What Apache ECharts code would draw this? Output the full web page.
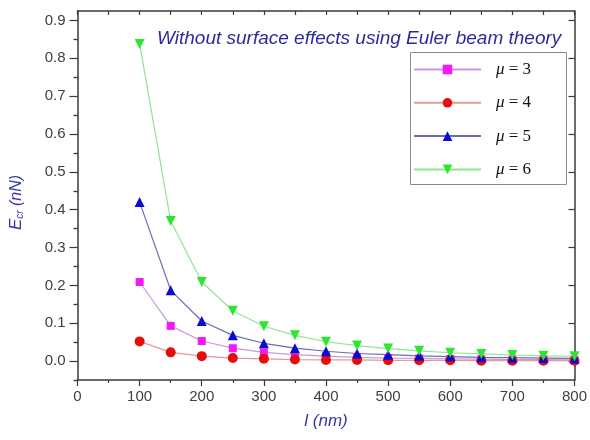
<!DOCTYPE html>
<html>
<head>
<meta charset="utf-8">
<script src="https://cdn.jsdelivr.net/npm/echarts@6/dist/echarts.min.js"></script>
<style>html,body{margin:0;padding:0;background:#fff}#c{width:590px;height:440px}</style>
</head>
<body>
<div id="c"></div>
<script>
// ---- data ----
const lengths = [100, 150, 200, 250, 300, 350, 400, 450, 500, 550, 600, 650, 700, 750, 800];
const mu3 = [0.209, 0.093, 0.053, 0.034, 0.023, 0.017, 0.013, 0.010, 0.008, 0.007, 0.006, 0.005, 0.004, 0.004, 0.003];
const mu4 = [0.052, 0.023, 0.013, 0.008, 0.006, 0.004, 0.003, 0.003, 0.002, 0.002, 0.002, 0.001, 0.001, 0.001, 0.001];
const mu5 = [0.420, 0.187, 0.106, 0.068, 0.047, 0.034, 0.026, 0.020, 0.017, 0.014, 0.012, 0.010, 0.009, 0.008, 0.007];
const mu6 = [0.838, 0.370, 0.209, 0.133, 0.092, 0.068, 0.051, 0.041, 0.033, 0.027, 0.022, 0.019, 0.016, 0.014, 0.013];
const seriesNames = ['μ = 3', 'μ = 4', 'μ = 5', 'μ = 6'];
const yMajorTicks = [0, 0.1, 0.2, 0.3, 0.4, 0.5, 0.6, 0.7, 0.8, 0.9];
const yMinorTicks = [-0.05, 0.05, 0.15, 0.25, 0.35, 0.45, 0.55, 0.65, 0.75, 0.85];
const titleText = 'Without surface effects using Euler beam theory';

const pairs = arr => lengths.map((x, i) => [x, arr[i]]);
const Y_MIN = -0.05, Y_MAX = 0.925;
const axisColor = '#3a3a3a';
const labelFont = {fontFamily: 'Arial, "Liberation Sans", sans-serif', fontSize: 15, color: '#404040'};

const chart = echarts.init(document.getElementById('c'), null, {renderer: 'canvas'});

function mkSeries(name, data, symbol, size, color, lineColor) {
  return {
    name, type: 'line', data: pairs(data), xAxisIndex: 0, yAxisIndex: 0,
    symbol, symbolSize: size,
    itemStyle: {color: color},
    lineStyle: {color: lineColor, width: 1.2},
    emphasis: {disabled: true}, animation: false, z: 3
  };
}

const serif = '"Liberation Serif", "Times New Roman", serif';
const option = {
  animation: false,
  title: {
    text: titleText, left: 152, top: 24,
    textStyle: {fontFamily: 'Arial, "Liberation Sans", sans-serif', fontStyle: 'italic', fontWeight: 'normal', fontSize: 19, color: '#2b2b9e'}
  },
  grid: {left: 76, right: 13.5, top: 11, bottom: 60, containLabel: false},
  legend: {
    orient: 'vertical', left: 413, top: 61, padding: 0,
    itemWidth: 67, itemHeight: 12, itemGap: 16.3,
    data: seriesNames,
    formatter: n => '{m|μ}{e| ' + n.slice(2) + '}',
    textStyle: {
      padding: [0, 0, 0, 10],
      rich: {
        m: {fontFamily: serif, fontStyle: 'italic', fontSize: 17, color: '#111'},
        e: {fontFamily: serif, fontSize: 17, color: '#111'}
      }
    }
  },
  graphic: [{
    type: 'rect', left: 408, top: 50, z: 10, silent: true,
    shape: {width: 156, height: 132},
    style: {fill: 'none', stroke: '#8a8a8a', lineWidth: 1}
  }],
  xAxis: [
    {
      type: 'value', position: 'bottom', min: 0, max: 800, interval: 100,
      name: 'l (nm)', nameLocation: 'middle', nameGap: 33,
      nameTextStyle: {fontFamily: 'Arial, "Liberation Sans", sans-serif', fontStyle: 'italic', fontSize: 17, color: '#3535a5'},
      axisLine: {onZero: false, lineStyle: {color: axisColor, width: 1.5}},
      axisTick: {inside: false, length: 6, lineStyle: {color: axisColor, width: 1.2}},
      minorTick: {show: true, splitNumber: 2, length: 3, lineStyle: {color: axisColor, width: 1.2}},
      axisLabel: Object.assign({margin: 9}, labelFont),
      splitLine: {show: false}
    },
    {
      type: 'value', position: 'top', min: 0, max: 800, interval: 50,
      axisLine: {onZero: false, lineStyle: {color: axisColor, width: 1.5}},
      axisTick: {inside: true, length: 4, lineStyle: {color: axisColor, width: 1.2}},
      axisLabel: {show: false}, splitLine: {show: false}
    }
  ],
  yAxis: [
    {
      type: 'value', position: 'left', min: Y_MIN, max: Y_MAX,
      name: '{E|E}{s|cr}{n| (nN)}', nameLocation: 'middle', nameGap: 52, nameRotate: 90,
      nameTextStyle: {
        padding: [0, 14, 0, 0],
        rich: {
          E: {fontFamily: 'Arial, "Liberation Sans", sans-serif', fontStyle: 'italic', fontSize: 17, color: '#3535a5'},
          s: {fontFamily: 'Arial, "Liberation Sans", sans-serif', fontStyle: 'italic', fontSize: 10, color: '#3535a5', verticalAlign: 'bottom', padding: [8, 0, 0, 0]},
          n: {fontFamily: 'Arial, "Liberation Sans", sans-serif', fontStyle: 'italic', fontSize: 16, color: '#3535a5'}
        }
      },
      axisLine: {onZero: false, lineStyle: {color: axisColor, width: 1.5}},
      axisTick: {inside: false, length: 8, customValues: yMajorTicks, lineStyle: {color: axisColor, width: 1.2}},
      axisLabel: Object.assign({margin: 12, customValues: yMajorTicks, formatter: v => v.toFixed(1)}, labelFont),
      splitLine: {show: false}
    },
    {
      type: 'value', position: 'left', min: Y_MIN, max: Y_MAX,
      axisLine: {show: false},
      axisTick: {inside: false, length: 4, customValues: yMinorTicks, lineStyle: {color: axisColor, width: 1.2}},
      axisLabel: {show: false}, splitLine: {show: false}
    },
    {
      type: 'value', position: 'right', min: Y_MIN, max: Y_MAX,
      axisLine: {onZero: false, lineStyle: {color: axisColor, width: 1.5}},
      axisTick: {inside: true, length: 6, customValues: yMajorTicks, lineStyle: {color: axisColor, width: 1.2}},
      axisLabel: {show: false}, splitLine: {show: false}
    },
    {
      type: 'value', position: 'right', min: Y_MIN, max: Y_MAX,
      axisLine: {show: false},
      axisTick: {inside: true, length: 3, customValues: yMinorTicks, lineStyle: {color: axisColor, width: 1.2}},
      axisLabel: {show: false}, splitLine: {show: false}
    }
  ],
  series: [
    mkSeries(seriesNames[0], mu3, 'rect', 8, '#f21cf2', '#c89ad8'),
    mkSeries(seriesNames[1], mu4, 'circle', 10, '#e60d0d', '#e29a9a'),
    mkSeries(seriesNames[2], mu5, 'triangle', 10, '#0a0ad0', '#6c6cb4'),
    mkSeries(seriesNames[3], mu6, 'path://M0,0 L10,0 L5,9 Z', 10, '#2ee62e', '#8fe68f')
  ]
};
chart.setOption(option);
</script>
</body>
</html>
